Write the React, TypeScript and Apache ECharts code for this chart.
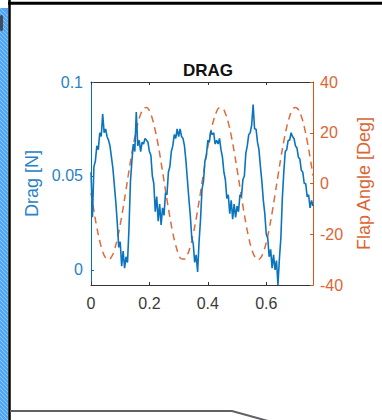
import React, { useEffect, useRef } from "react";
import * as echarts from "echarts";

// Time step of the drag record (s) and drag values (N)
const DRAG_DT = 0.005;
const DRAG_N = [
  0.052, 0.028, 0.055, 0.058, 0.066, 0.064, 0.073, 0.071, 0.083, 0.073,
  0.075, 0.071, 0.069, 0.066, 0.060, 0.054, 0.045, 0.036, 0.025, 0.012,
  0.015, 0.002, 0.010, 0.001, 0.007, 0.004, 0.022, 0.047, 0.058, 0.067,
  0.063, 0.084, 0.066, 0.069, 0.063, 0.068, 0.067, 0.070, 0.069, 0.068,
  0.063, 0.061, 0.050, 0.046, 0.031, 0.039, 0.026, 0.035, 0.024, 0.033,
  0.029, 0.041, 0.040, 0.052, 0.055, 0.063, 0.066, 0.072, 0.070, 0.075,
  0.071, 0.075, 0.071, 0.070, 0.066, 0.058, 0.048, 0.038, 0.029, 0.017,
  0.014, 0.004, 0.008, -0.001, 0.015, 0.027, 0.043, 0.047, 0.058, 0.061,
  0.069, 0.068, 0.074, 0.072, 0.073, 0.067, 0.069, 0.067, 0.070, 0.064,
  0.060, 0.052, 0.048, 0.038, 0.040, 0.030, 0.037, 0.027, 0.035, 0.028,
  0.034, 0.031, 0.040, 0.039, 0.048, 0.050, 0.062, 0.066, 0.072, 0.073,
  0.077, 0.088, 0.075, 0.075, 0.068, 0.064, 0.055, 0.047, 0.037, 0.030,
  0.019, 0.017, 0.007, 0.011, 0.001, 0.008, 0.000, 0.005, -0.008, 0.006,
  0.017, 0.038, 0.052, 0.063, 0.064, 0.069, 0.069, 0.073, 0.071, 0.070,
  0.066, 0.065, 0.060, 0.059, 0.053, 0.052, 0.046, 0.046, 0.039, 0.040,
  0.033, 0.037, 0.034,
];

// Time step of the flap angle record (s) and flap angle values (deg)
const FLAP_DT = 0.01;
const FLAP_DEG = [
  -3.7, -10.8, -17.3, -22.7, -26.8, -29.3, -30.0, -28.9, -26.2, -21.8,
  -16.2, -9.6, -2.4, 5.0, 12.0, 18.3, 23.5, 27.3, 29.5, 30.0,
  28.6, 25.5, 20.9, 15.1, 8.3, 1.0, -6.3, -13.2, -19.4, -24.3,
  -27.9, -29.7, -29.8, -28.1, -24.8, -19.9, -13.9, -7.0, 0.3, 7.6,
  14.4, 20.3, 25.0, 28.3, 29.9, 29.6, 27.6, 24.0, 18.9, 12.6,
  5.7, -1.6, -8.8, -15.5, -21.3, -25.8, -28.7, -30.0, -29.4, -27.1,
  -23.2, -17.9, -11.5, -4.4, 2.9, 10.1, 16.6, 22.2, 26.4, 29.1,
  30.0, 29.1, 26.5, 22.3, 16.8, 10.3, 3.1,
];

const X_TICKS = [0, 0.2, 0.4, 0.6];
const DRAG_TICKS = [0, 0.05, 0.1];
const FLAP_TICKS = [-40, -20, 0, 20, 40];

export default function App() {
  const ref = useRef<HTMLDivElement>(null);

  useEffect(() => {
    if (!ref.current) return;
    const chart = echarts.init(ref.current, null, { renderer: "svg" });
    const blue = "#0072BD";
    const blueText = "#2a82c6";
    const orange = "#D95319";
    const orangeText = "#dc6535";
    const dark = "#333333";
    const font = "'Liberation Sans', Arial, sans-serif";

    const dragData = DRAG_N.map((v, i) => [+(i * DRAG_DT).toFixed(4), v]);
    const flapData = FLAP_DEG.map((v, i) => [+(i * FLAP_DT).toFixed(3), v]);

    const hatch: any[] = [];
    for (let y = 8; y < 430; y += 4) {
      hatch.push({
        type: "line",
        silent: true,
        shape: { x1: 0, y1: y, x2: 8, y2: y + 8 },
        style: { stroke: "#8cc5fa", lineWidth: 1 },
      });
    }

    const xBase = {
      type: "value",
      min: 0,
      max: 0.76,
      splitLine: { show: false },
      axisLine: { show: true, onZero: false, lineStyle: { color: dark, width: 1 } },
      axisTick: { show: true, inside: true, length: 3, customValues: X_TICKS, lineStyle: { color: dark } },
    };

    chart.setOption({
      animation: false,
      backgroundColor: "#ffffff",
      title: {
        text: "DRAG",
        left: 203,
        top: 57,
        textAlign: "center",
        textStyle: { fontSize: 17, fontWeight: "bold", color: "#111", fontFamily: font },
      },
      grid: { left: 91, right: 69, top: 82, bottom: 135 },
      xAxis: [
        {
          ...xBase,
          position: "bottom",
          axisLabel: { customValues: X_TICKS, color: "#3a3a3a", fontSize: 16, margin: 10, fontFamily: font },
        },
        {
          ...xBase,
          position: "top",
          axisLabel: { show: false },
        },
      ],
      yAxis: [
        {
          type: "value",
          position: "left",
          min: -0.008,
          max: 0.1,
          name: "Drag [N]",
          nameLocation: "middle",
          nameGap: 43,
          nameTextStyle: { color: blueText, fontSize: 18, fontFamily: font },
          splitLine: { show: false },
          axisLine: { show: true, onZero: false, lineStyle: { color: blue, width: 1 } },
          axisTick: { show: true, inside: true, length: 3, customValues: DRAG_TICKS, lineStyle: { color: blue } },
          axisLabel: { customValues: DRAG_TICKS, color: blueText, fontSize: 16, margin: 8, fontFamily: font },
        },
        {
          type: "value",
          position: "right",
          min: -40,
          max: 40,
          interval: 20,
          name: "Flap Angle [Deg]",
          nameLocation: "middle",
          nameGap: 42,
          nameTextStyle: { color: orangeText, fontSize: 18, fontFamily: font },
          splitLine: { show: false },
          axisLine: { show: true, onZero: false, lineStyle: { color: orange, width: 1 } },
          axisTick: { show: true, inside: true, length: 3, customValues: FLAP_TICKS, lineStyle: { color: orange } },
          axisLabel: { customValues: FLAP_TICKS, color: orangeText, fontSize: 16, margin: 7, fontFamily: font },
        },
      ],
      series: [
        {
          type: "line",
          name: "Flap",
          xAxisIndex: 0,
          yAxisIndex: 1,
          data: flapData,
          smooth: true,
          showSymbol: false,
          lineStyle: { color: "#e06a3a", width: 1.5, type: [7, 5] },
          z: 2,
        },
        {
          type: "line",
          name: "Drag",
          xAxisIndex: 0,
          yAxisIndex: 0,
          data: dragData,
          showSymbol: false,
          lineStyle: { color: "#0a74bf", width: 1.6 },
          z: 3,
        },
      ],
      graphic: [
        {
          type: "rect",
          silent: true,
          shape: { x: 0, y: 8, width: 8, height: 412 },
          style: { fill: "#52a6f6" },
        },
        ...hatch,
        {
          type: "rect",
          silent: true,
          shape: { x: 0, y: 15, width: 3, height: 16, r: 1.5 },
          style: { fill: "#3f4c5e" },
        },
        {
          type: "line",
          silent: true,
          shape: { x1: 9.5, y1: 0, x2: 9.5, y2: 420 },
          style: { stroke: "#000", lineWidth: 2.5 },
        },
        {
          type: "line",
          silent: true,
          shape: { x1: 8, y1: 3.2, x2: 382, y2: 3.2 },
          style: { stroke: "#000", lineWidth: 3 },
        },
        {
          type: "polyline",
          silent: true,
          shape: { points: [[10, 411], [232, 411], [268, 421]] },
          style: { stroke: "#5f6166", lineWidth: 2, fill: null },
        },
      ],
    });

    return () => chart.dispose();
  }, []);

  return (
    <div
      ref={ref}
      style={{ position: "fixed", left: 0, top: 0, width: 382, height: 420, background: "#fff" }}
    />
  );
}
